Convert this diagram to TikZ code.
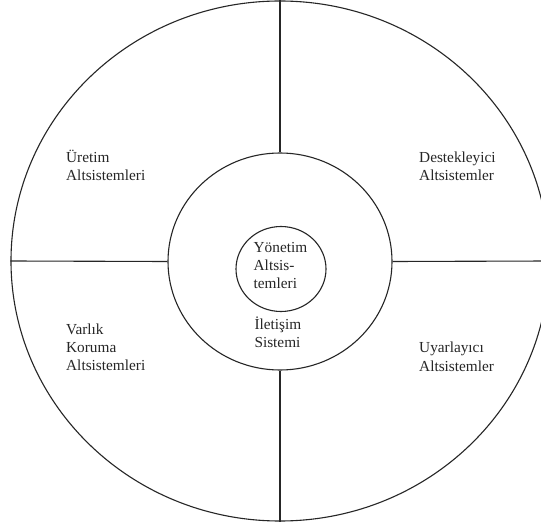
\documentclass[tikz,border=0pt]{standalone}
\usepackage{fontspec}
\setmainfont{Liberation Serif}
\usetikzlibrary{shapes.geometric}
\begin{document}
\begin{tikzpicture}[x=1pt,y=-1pt,
  ring/.style={draw=black!85, line width=1.1pt, ellipse, inner sep=0pt},
  sep/.style={draw=black!85, line width=1.1pt},
  lbl/.style={text=black!85, font=\fontsize{15.3}{18.2}\selectfont, align=left, inner sep=0pt, anchor=base west}]
\useasboundingbox (0,0) rectangle (541,529);
\fill[white] (0,0) rectangle (541,529);
\node[ring, minimum width=538pt, minimum height=520pt] (outer) at (280,261) {};
\node[ring, minimum width=224pt, minimum height=217pt] (mid) at (280,261.5) {};
\node[ring, minimum width=90pt, minimum height=85pt] (core) at (281,269) {};
\draw[sep] (outer.north) -- (mid.north);
\draw[sep] (mid.south) -- (outer.south);
\draw[sep] (outer.west) -- (mid.west);
\draw[sep] (mid.east) -- (outer.east);
% base anchor = baseline of the last line
\node[lbl] (uretim) at (66,181) {Üretim\\Altsistemleri};
\node[lbl] (destek) at (419,181) {Destekleyici\\Altsistemler};
\node[lbl] (varlik) at (66,370.5) {Varlık\\Koruma\\Altsistemleri};
\node[lbl] (uyar) at (419,371) {Uyarlayıcı\\Altsistemler};
\node[lbl] (yonetim) at (253.5,288.5) {Yönetim\\Altsis-\\temleri};
\node[lbl] (iletisim) at (254.3,347.5) {İletişim\\Sistemi};
\end{tikzpicture}
\end{document}
